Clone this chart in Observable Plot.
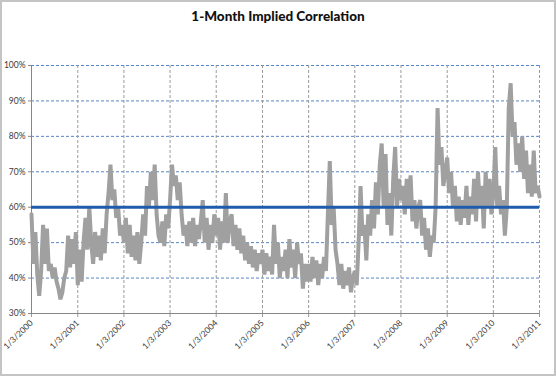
<!DOCTYPE html>
<html>
<head>
<meta charset="utf-8">
<script src="https://cdn.jsdelivr.net/npm/d3@7"></script>
<script src="https://cdn.jsdelivr.net/npm/@observablehq/plot@0.6"></script>
<style>
  html, body { margin: 0; padding: 0; background: #fff; }
  #wrap { position: relative; width: 556px; height: 376px; overflow: hidden; background: #fff; }
  #border { position: absolute; left: 0; top: 0; width: 556px; height: 376px; box-sizing: border-box; border: 2px solid #c4c4c4; pointer-events: none; }
  #title { position: absolute; left: 0; top: 8px; width: 556px; text-align: center; font-family: Lato, "Open Sans", sans-serif; font-weight: 900; font-size: 13.5px; color: #111; }
  #chart { position: absolute; left: 0; top: 40px; }
</style>
</head>
<body>
<div id="wrap">
  <div id="title">1-Month Implied Correlation</div>
  <div id="chart"></div>
  <div id="border"></div>
</div>
<script>
// ---- data (half-monthly readings, in %) ----
const years = [2000, 2001, 2002, 2003, 2004, 2005, 2006, 2007, 2008, 2009, 2010];
const corr2000 = [58,44,53,41,35,42,55,44,54,42,44,40,43,39,37,34,36,40,42,52,43,51,44,53];
const corr2001 = [38,48,39,50,57,48,60,50,44,53,46,52,45,54,47,58,64,72,62,65,57,60,52,55];
const corr2002 = [50,57,47,55,46,52,45,53,44,50,58,52,66,60,70,62,72,58,52,50,56,49,58,54];
const corr2003 = [62,72,66,69,62,67,58,52,55,49,56,50,57,49,55,51,56,62,50,57,48,55,50,58];
const corr2004 = [52,57,48,56,50,64,50,56,58,49,55,48,54,47,52,45,50,44,49,43,48,42,47,44];
const corr2005 = [48,41,47,42,46,41,55,44,50,40,46,42,48,40,51,43,48,40,50,44,47,37,44,39];
const corr2006 = [44,39,46,40,45,38,44,40,46,42,58,73,55,60,48,44,38,44,37,42,38,43,36,40];
const corr2007 = [42,38,50,66,52,55,45,58,52,62,54,67,58,72,78,60,75,55,64,52,68,77,60,68];
const corr2008 = [62,66,58,68,60,69,56,62,54,60,62,52,57,48,54,46,52,50,60,88,72,77,66,70];
const corr2009 = [74,64,70,60,66,56,63,55,62,57,66,55,63,58,68,56,70,60,66,54,70,60,68,58];
const corr2010 = [64,77,60,66,58,62,52,60,88,95,80,84,72,78,70,80,68,76,64,72,63,76,64,66];
const corrLast = 63; // 1/3/2011
const benchmark = 60;

const xTickLabels = ["1/3/2000","1/3/2001","1/3/2002","1/3/2003","1/3/2004","1/3/2005","1/3/2006","1/3/2007","1/3/2008","1/3/2009","1/3/2010","1/3/2011"];
const yTickValues = [30, 40, 50, 60, 70, 80, 90, 100];
const yTickLabels = ["30%","40%","50%","60%","70%","80%","90%","100%"];

// ---- build table ----
const parseMDY = s => { const [m, d, y] = s.split("/").map(Number); return new Date(Date.UTC(y, m - 1, d)); };
const xTicks = xTickLabels.map(parseMDY);
const series = [corr2000, corr2001, corr2002, corr2003, corr2004, corr2005, corr2006, corr2007, corr2008, corr2009, corr2010];
const rows = [];
series.forEach((vals, k) => {
  const start = xTicks[k].getTime(), end = xTicks[k + 1].getTime();
  vals.forEach((v, i) => rows.push({date: new Date(start + (end - start) * i / vals.length), value: v / 100}));
});
rows.push({date: xTicks[xTicks.length - 1], value: corrLast / 100});
const yTicks = yTickValues.map(v => v / 100);

const chart = Plot.plot({
  width: 556,
  height: 336,
  marginLeft: 31,
  marginRight: 17,
  marginTop: 25,
  marginBottom: 63,
  style: {fontFamily: "Lato, 'Open Sans', sans-serif", fontSize: "8px", color: "#3a3a3a", background: "transparent"},
  x: {type: "utc", domain: [xTicks[0], xTicks[xTicks.length - 1]], axis: null},
  y: {domain: [0.3, 1.0], axis: null},
  marks: [
    Plot.ruleY(yTicks.slice(1), {stroke: "#5585c4", strokeWidth: 1, strokeDasharray: "3,2"}),
    Plot.ruleX(xTicks.slice(1), {y1: 0.3, y2: 1.0, stroke: "#9a9a9a", strokeWidth: 1, strokeDasharray: "3,2"}),
    Plot.axisY({ticks: yTicks, tickFormat: d => yTickLabels[yTicks.findIndex(t => Math.abs(t - d) < 1e-9)], tickSize: 3, tickPadding: 3, fontSize: 8.5, stroke: "#868686", label: null}),
    Plot.axisX({ticks: xTicks, tickFormat: d => xTickLabels[xTicks.findIndex(t => t.getTime() === d.getTime())], tickSize: 4, tickPadding: 4, tickRotate: -45, fontSize: 8.5, stroke: "#9a9a9a", label: null}),
    Plot.ruleX([xTicks[0]], {y1: 0.3, y2: 1.0, stroke: "#868686", strokeWidth: 1}),
    Plot.ruleY([0.3], {stroke: "#868686", strokeWidth: 1}),
    Plot.line(rows, {x: "date", y: "value", stroke: "#a0a0a0", strokeWidth: 4, strokeLinejoin: "miter", strokeMiterlimit: 2}),
    Plot.ruleY([benchmark / 100], {stroke: "#1f5cae", strokeWidth: 3})
  ]
});
document.getElementById("chart").appendChild(chart);
</script>
</body>
</html>
